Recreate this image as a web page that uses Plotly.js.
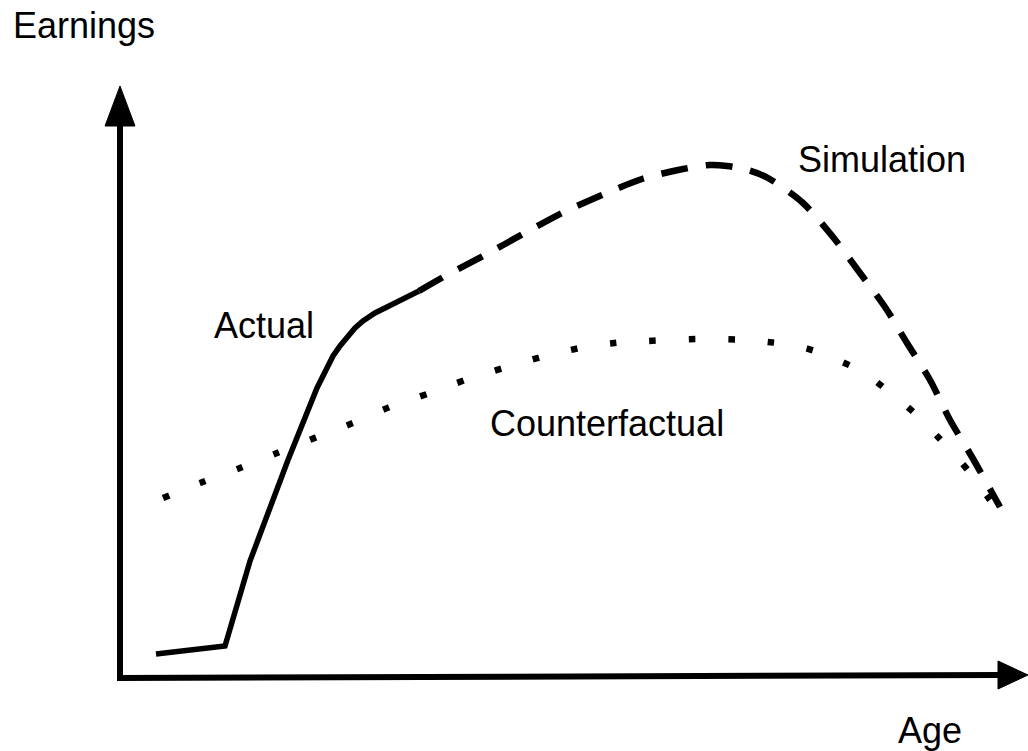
<!DOCTYPE html>
<html>
<head>
<meta charset="utf-8">
<script src="https://cdn.plot.ly/plotly-3.0.1.min.js"></script>
<style>html,body{margin:0;padding:0;background:#fff;}#chart{width:1028px;height:751px;}</style>
</head>
<body>
<div id="chart"></div>
<script>
// Schematic values (age units, earnings units; origin at the axes corner)
const actualAge = [36, 105, 130, 168, 197, 205, 213, 220, 227, 235, 243, 255, 267, 299];
const actualEarn = [24, 32, 117, 218, 290, 307, 322, 332, 341, 350, 357, 365, 371, 387];

const simAge = [299, 327, 365, 403, 442, 482, 522, 563, 590, 607, 628, 648, 683, 713, 740, 765, 787, 810, 830, 852, 880];
const simEarn = [387, 403, 423, 444, 465, 483, 499, 509, 513, 512, 508, 500, 475, 441, 405, 371, 335, 298, 258, 221, 171];

const cfAge = [43, 80, 120, 157, 197, 233, 270, 310, 348, 387, 425, 465, 505, 527, 580, 630, 648, 673, 698, 720, 743, 763, 783, 801, 818, 835, 851, 870];
const cfEarn = [180, 195, 210, 225, 241, 255, 271, 285, 299, 311, 322, 331, 336, 337, 339, 338, 336, 333, 326, 317, 306, 291, 275, 259, 241, 223, 204, 178];

const labels = ['Earnings', 'Age', 'Simulation', 'Actual', 'Counterfactual'];

const FONT = 'Liberation Sans, Arial, sans-serif';

const traces = [
  {x: actualAge, y: actualEarn, mode: 'lines', line: {color: '#000', width: 5.5, shape: 'linear'}, hoverinfo: 'skip'},
  {x: simAge, y: simEarn, mode: 'lines', line: {color: '#000', width: 6.5, shape: 'spline', smoothing: 0.8, dash: '27px,18px'}, hoverinfo: 'skip'},
  {x: cfAge, y: cfEarn, mode: 'lines', line: {color: '#000', width: 6.5, shape: 'spline', smoothing: 0.8, dash: '6.5px,33px'}, hoverinfo: 'skip'}
];

const layout = {
  width: 1028, height: 751,
  margin: {l: 0, r: 0, t: 0, b: 0},
  paper_bgcolor: '#fff', plot_bgcolor: '#fff',
  showlegend: false,
  xaxis: {range: [-120, 908], visible: false, fixedrange: true},
  yaxis: {range: [-73, 678], visible: false, fixedrange: true},
  shapes: [
    {type: 'line', x0: 0, y0: -3, x1: 0, y1: 553, line: {color: '#000', width: 6}},
    {type: 'path', path: 'M -15,552 L 15,552 L 0,592 Z', fillcolor: '#000', line: {color: '#000', width: 1}},
    {type: 'line', x0: -3, y0: 0, x1: 880, y1: 3, line: {color: '#000', width: 6}},
    {type: 'path', path: 'M 878,17 L 878,-11 L 908,3 Z', fillcolor: '#000', line: {color: '#000', width: 1}}
  ],
  annotations: [
    {x: -109, y: 652.5, text: labels[0]},
    {x: 776, y: -52.5, text: labels[1]},
    {x: 676, y: 518.5, text: labels[2]},
    {x: 92, y: 352.5, text: labels[3]},
    {x: 368, y: 254.5, text: labels[4]}
  ].map(a => Object.assign(a, {xref: 'x', yref: 'y', xanchor: 'left', yanchor: 'middle', showarrow: false, font: {family: FONT, size: 36, color: '#000'}}))
};

Plotly.newPlot('chart', traces, layout, {staticPlot: true, displayModeBar: false});
</script>
</body>
</html>
